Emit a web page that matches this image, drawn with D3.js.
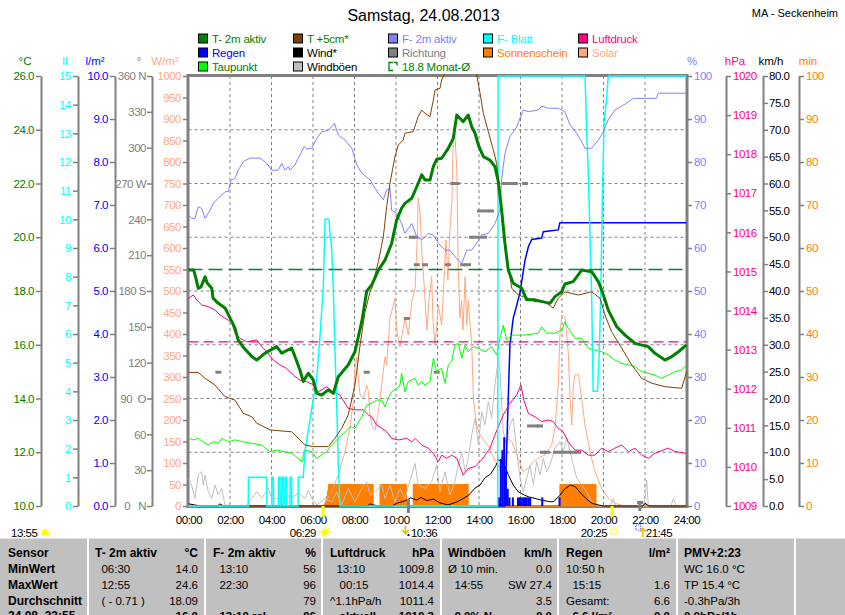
<!DOCTYPE html>
<html><head><meta charset="utf-8">
<script src="https://cdn.jsdelivr.net/npm/d3@7"></script>
<style>
body{margin:0;background:#fff;}
svg{display:block;}
text{white-space:pre;}
</style></head><body>
<svg id="c" width="845" height="615"></svg>
<script>
// ---------------- DATA ----------------
const hourTicks = [0,2,4,6,8,10,12,14,16,18,20,22,24];
const hourLabels = ["00:00","02:00","04:00","06:00","08:00","10:00","12:00","14:00","16:00","18:00","20:00","22:00","24:00"];
const tempTicks = [10,12,14,16,18,20,22,24,26];
const leafTicks = [0,1,2,3,4,5,6,7,8,9,10,11,12,13,14,15];
const rainTicks = [0,1,2,3,4,5,6,7,8,9,10];
const dirTicks = [0,30,60,90,120,150,180,210,240,270,300,330,360];
const dirLabels = ["0   N","30","60","90  O","120","150","180 S","210","240","270 W","300","330","360 N"];
const solarTicks = [0,50,100,150,200,250,300,350,400,450,500,550,600,650,700,750,800,850,900,950,1000];
const humTicks = [0,10,20,30,40,50,60,70,80,90,100];
const pressTicks = [1009,1010,1011,1012,1013,1014,1015,1016,1017,1018,1019,1020];
const windTicks = [0,5,10,15,20,25,30,35,40,45,50,55,60,65,70,75,80];
const sunTicks = [0,10,20,30,40,50,60,70,80,90,100];

// T- 2m aktiv [hour, °C]
const t2m = [[0,18.78],[0.25,18.78],[0.35,18.5],[0.47,18.1],[0.6,18.15],[0.8,18.53],[0.9,18.3],[1.12,18.1],[1.18,17.74],[1.42,17.55],[1.76,17.37],[2.0,17.0],[2.24,16.62],[2.39,16.18],[2.63,15.92],[3.05,15.56],[3.29,15.43],[3.69,15.69],[4.25,15.93],[4.49,15.69],[4.97,15.88],[5.13,15.56],[5.37,15.06],[5.53,14.63],[5.77,14.94],[6.01,14.69],[6.18,14.19],[6.42,14.13],[6.74,14.32],[6.98,14.19],[7.22,14.81],[7.7,15.25],[8.02,15.74],[8.35,16.86],[8.59,18.0],[8.83,18.22],[9.15,18.78],[9.47,19.15],[9.79,19.77],[10.03,20.64],[10.27,21.08],[10.43,21.26],[10.76,21.45],[11.0,21.88],[11.24,22.32],[11.4,22.13],[11.64,22.13],[11.8,22.63],[11.96,22.9],[12.2,22.94],[12.52,23.31],[12.76,23.68],[12.93,24.55],[13.08,24.43],[13.24,24.3],[13.48,24.55],[13.65,24.11],[13.81,23.87],[13.97,23.43],[14.21,23.0],[14.53,22.87],[14.77,22.63],[14.93,22.07],[15.09,21.01],[15.25,19.77],[15.41,18.78],[15.65,18.29],[16.06,18.1],[16.3,17.67],[16.7,17.67],[17.42,17.54],[17.66,17.79],[17.99,17.97],[18.14,18.26],[18.54,18.35],[18.95,18.78],[19.43,18.72],[19.75,18.35],[19.91,18.04],[20.23,17.29],[20.64,16.67],[21.04,16.36],[21.52,16.05],[22.16,15.93],[22.48,15.68],[22.96,15.43],[23.29,15.56],[23.61,15.74],[24.0,15.99]];
// T +5cm [hour, °C]
const t5cm = [[0,14.97],[0.47,14.97],[0.8,14.75],[1.28,14.5],[1.76,14.07],[2.24,13.94],[2.64,13.45],[3.05,13.32],[3.29,13.08],[3.93,12.83],[4.97,12.76],[5.29,12.52],[5.61,12.27],[6.01,12.21],[6.74,12.21],[7.06,12.52],[7.38,12.89],[7.7,13.39],[8.02,14.5],[8.27,15.99],[8.51,17.23],[8.75,17.97],[8.83,18.1],[9.15,19.09],[9.39,20.02],[9.55,21.14],[9.71,22.01],[9.95,23.0],[10.11,23.43],[10.35,23.62],[10.43,23.87],[10.83,23.93],[11.07,24.49],[11.24,24.73],[11.4,24.61],[11.64,24.49],[11.8,25.11],[11.88,25.48],[12.12,25.54],[12.2,25.85],[12.36,26.1],[12.7,26.9],[13.1,27.4],[13.5,27.0],[13.89,26.04],[14.05,25.36],[14.21,24.61],[14.45,23.93],[14.69,23.25],[14.85,22.75],[15.01,21.64],[15.17,20.39],[15.33,19.28],[15.58,18.1],[15.9,17.85],[16.38,17.73],[16.7,17.6],[17.18,17.6],[17.58,17.36],[17.82,17.73],[18.14,17.97],[18.79,17.85],[19.43,17.97],[19.83,17.73],[20.07,17.11],[20.39,16.49],[20.88,15.87],[21.36,15.25],[21.84,14.75],[22.32,14.57],[22.96,14.44],[23.77,14.38],[24.0,15.0]];
// Taupunkt [hour, °C]
const dewPoint = [[0,12.52],[0.23,12.46],[0.47,12.52],[0.71,12.39],[0.95,12.27],[1.2,12.39],[1.44,12.33],[1.6,12.52],[1.92,12.39],[2.24,12.46],[2.64,12.39],[3.05,12.33],[3.53,12.27],[3.93,12.02],[4.25,12.08],[4.65,12.02],[4.97,11.96],[5.29,11.77],[5.46,11.65],[5.61,12.08],[5.94,12.02],[6.18,11.77],[6.42,11.9],[6.66,12.02],[6.9,12.27],[7.22,12.52],[7.54,12.76],[7.78,12.95],[8.02,12.89],[8.35,13.32],[8.59,13.76],[8.83,13.82],[9.07,13.94],[9.31,13.94],[9.47,13.69],[9.63,14.01],[9.79,14.25],[10.03,14.38],[10.19,14.5],[10.27,14.94],[10.43,14.25],[10.59,14.63],[10.92,14.75],[11.07,14.5],[11.24,14.63],[11.4,14.5],[11.64,14.63],[11.8,15.5],[11.96,15.0],[12.2,15.12],[12.36,14.57],[12.52,15.25],[12.68,15.37],[12.84,15.99],[13.0,16.05],[13.17,15.5],[13.33,15.99],[13.48,15.74],[13.73,15.93],[13.97,15.87],[14.29,15.74],[14.61,15.93],[14.85,15.62],[15.01,16.24],[15.17,16.73],[15.33,16.18],[15.58,16.36],[16.22,16.36],[16.86,16.43],[17.02,16.67],[17.26,16.43],[17.66,16.43],[17.99,16.55],[18.14,16.86],[18.3,16.61],[18.63,16.24],[18.95,16.24],[19.27,15.87],[19.59,15.8],[19.91,15.74],[20.23,15.62],[20.55,15.43],[20.88,15.31],[21.2,15.25],[21.52,15.18],[21.84,15.0],[22.16,14.94],[22.48,14.87],[22.8,14.75],[23.12,14.87],[23.45,15.0],[23.77,15.06],[24.0,15.25]];
// F- 2m aktiv [hour, %]
const humidity = [[0,67.7],[0.15,66.9],[0.31,66.9],[0.47,69.6],[0.64,69.2],[0.8,66.9],[1.04,68.8],[1.2,70.4],[1.44,71.6],[1.6,72.3],[1.76,73.1],[1.92,73.1],[2.05,75.8],[2.24,76.2],[2.4,78.1],[2.64,80.1],[2.96,80.9],[3.45,80.9],[3.77,79.7],[4.01,78.1],[4.33,78.1],[4.49,79.7],[4.65,78.1],[4.81,78.9],[4.89,78.1],[5.13,79.3],[5.29,80.9],[5.58,83.6],[5.7,83.0],[5.94,83.2],[6.18,85.5],[6.42,87.0],[6.74,87.4],[6.9,88.2],[7.03,89.0],[7.22,86.3],[7.54,85.1],[7.87,83.2],[8.11,79.3],[8.35,77.4],[8.75,75.8],[8.99,73.9],[9.15,72.7],[9.39,71.2],[9.55,73.5],[9.71,73.9],[9.79,68.8],[10.03,68.1],[10.27,65.7],[10.43,63.4],[10.76,65.7],[11.0,62.6],[11.24,61.9],[11.56,63.4],[11.8,63.0],[12.04,61.1],[12.12,60.7],[12.36,59.5],[12.6,59.5],[12.84,58.0],[13.17,56.4],[13.41,59.5],[13.65,59.5],[13.89,61.1],[14.13,63.0],[14.45,63.4],[14.77,65.7],[15.01,68.8],[15.09,75.8],[15.25,82.0],[15.49,85.9],[15.82,88.2],[16.13,92.1],[16.38,91.7],[16.86,92.1],[17.02,93.0],[17.34,92.5],[17.82,92.5],[18.14,91.7],[18.39,88.6],[18.71,86.7],[18.95,84.7],[19.11,83.2],[19.43,83.2],[19.75,85.1],[19.99,87.0],[20.23,89.8],[20.55,92.1],[21.12,93.7],[21.44,94.8],[22.56,94.8],[22.64,96.0],[24.0,96.0]];
// F- Blatt [hour, lf]
const leafWet = [[0,0],[2.88,0],[2.89,1],[3.77,1],[3.78,0],[4.01,0],[4.02,1],[4.09,1],[4.1,0],[4.33,0],[4.34,1],[4.41,1],[4.42,0],[4.49,0],[4.5,1],[4.57,1],[4.58,0],[4.65,0],[4.66,1],[4.73,1],[4.74,0],[4.89,0],[4.9,1],[4.97,1],[4.98,0],[5.28,0],[5.29,1],[5.53,1],[5.61,1.9],[5.94,3.4],[6.18,4.45],[6.34,5.96],[6.5,7.7],[6.58,10],[6.77,10],[6.82,9.5],[6.9,9.0],[6.98,7.5],[7.06,5.4],[7.14,3.6],[7.22,1.4],[7.3,0],[14.9,0],[14.92,15],[19.11,15],[19.19,13],[19.27,11.6],[19.35,9.4],[19.43,7.3],[19.5,4],[19.71,4],[19.8,5.4],[19.87,7.5],[19.95,10.9],[20.03,13.4],[20.15,14.2],[20.23,15],[24,15]];
// Regen cumulative [hour, l/m²]
const rainSum = [[14.9,0],[15.25,0],[15.33,1.26],[15.49,3.74],[15.65,4.37],[15.82,4.67],[15.98,4.98],[16.22,5.72],[16.38,6.03],[16.54,6.2],[17.02,6.23],[17.1,6.38],[17.82,6.42],[17.9,6.59],[24,6.59]];
// Regen per 5 min [hour, l/m²]
const rainRate = [[14.92,0.2],[15.0,1.1],[15.083,1.3],[15.167,1.6],[15.25,0.8],[15.333,0.4],[15.417,0.2],[15.583,0.2],[15.833,0.2],[15.917,0.2],[16.0,0.2],[16.083,0.2],[16.167,0.2],[16.25,0.2],[16.333,0.2],[16.417,0.2],[17.0,0.2],[17.833,0.2]];
// Wind* [hour, km/h]
const wind = [[0,0.4],[0.3,0.2],[0.6,0],[1.4,0],[1.5,0.4],[1.7,0],[8.6,0],[8.75,0.4],[8.9,0.2],[9.2,0],[9.8,0],[10.1,0.6],[10.4,0.9],[10.7,1.5],[11.0,1.1],[11.2,1.6],[11.5,1.0],[11.8,1.3],[12.1,0.6],[12.5,0.2],[12.9,0.7],[13.2,1.3],[13.5,2.0],[13.8,3.3],[14.05,3.9],[14.3,5.3],[14.55,5.9],[14.8,7.4],[14.93,8.6],[15.08,8.3],[15.25,7.4],[15.4,5.9],[15.65,3.9],[15.9,2.6],[16.2,2.0],[16.4,1.7],[16.7,1.4],[17.0,1.1],[17.4,0.8],[17.6,0.8],[17.9,2.0],[18.14,3.2],[18.4,3.9],[18.64,3.6],[18.9,2.4],[19.15,1.4],[19.45,0.5],[19.75,0.2],[20.0,0],[21.9,0],[22.0,0.5],[22.2,0],[24,0]];
// Windböen [hour, km/h]
const gusts = [[0,5.15],[0.15,3.9],[0.31,1.43],[0.47,5.77],[0.64,6.38],[0.71,3.9],[0.8,5.77],[0.95,2.66],[1.12,1.43],[1.28,3.9],[1.44,2.05],[1.6,3.29],[1.76,0.19],[2.34,0],[2.77,0],[3.05,1.43],[3.29,2.66],[3.53,1.43],[3.85,3.29],[4.01,1.43],[4.33,1.43],[4.65,2.98],[4.89,1.43],[5.29,2.36],[5.61,1.43],[5.77,2.98],[5.94,1.43],[6.18,0.19],[6.58,1.43],[6.9,0.74],[7.14,2.66],[7.38,0.19],[7.7,3.29],[8.02,0.74],[8.35,3.29],[8.59,4.52],[8.75,2.05],[8.99,2.66],[9.31,3.9],[9.47,1.43],[9.71,3.9],[9.95,0.74],[10.19,3.29],[10.43,1.43],[10.92,7.94],[11.07,3.9],[11.4,3.29],[11.72,4.52],[11.96,7.63],[12.12,2.66],[12.36,6.38],[12.6,2.05],[12.84,4.52],[13.0,7.63],[13.17,10.1],[13.33,6.38],[13.48,8.87],[13.65,13.21],[13.81,16.32],[13.97,11.35],[14.13,17.54],[14.29,15.07],[14.45,19.4],[14.61,16.32],[14.77,22.51],[14.93,27.4],[15.01,24.99],[15.17,13.82],[15.33,11.35],[15.49,15.07],[15.65,16.32],[15.82,10.1],[15.98,5.15],[16.13,2.66],[16.3,5.15],[16.46,7.63],[16.62,3.9],[16.78,8.24],[16.94,5.77],[17.1,8.87],[17.26,6.38],[17.42,7.63],[17.66,10.73],[17.9,11.96],[18.06,10.1],[18.23,12.6],[18.39,10.1],[18.55,7.63],[18.71,5.15],[18.95,3.9],[19.19,2.66],[19.43,0.8],[19.75,0],[20.31,0],[20.47,1.43],[20.6,0],[21.9,0],[22.0,1.43],[22.08,4.84],[22.16,0],[23.25,0],[23.37,1.43],[23.5,0],[24,0]];
// Richtung [hour, degrees]
const direction = [[1.44,112],[8.59,112],[10.52,157],[10.76,225],[10.92,225],[11.0,202],[11.4,202],[11.96,112],[12.5,202],[12.76,270],[12.93,270],[13.24,202],[13.47,202],[13.66,225],[13.95,225],[14.24,225],[14.05,247],[14.34,247],[14.58,247],[15.25,270],[15.49,270],[15.73,270],[16.22,270],[16.46,67],[16.75,67],[16.94,67],[17.08,45],[17.28,45],[17.71,45],[18.0,45],[18.29,45],[18.58,45],[18.77,45],[21.76,3]];
// Sonnenschein [hour, min] (step)
const sunshine = [[0,0],[6.55,0.5],[6.6,1.2],[6.65,2.2],[6.7,3.5],[6.74,5],[8.9,0],[9.23,5],[10.5,0],[10.83,5],[13.48,0],[17.9,5],[19.64,0],[24,0]];
// Luftdruck [hour, hPa]
const pressure = [[0,1014.31],[0.23,1014.4],[0.4,1014.27],[0.64,1014.14],[0.95,1014.1],[1.28,1014.01],[1.52,1013.89],[1.76,1013.8],[2.08,1013.71],[2.24,1013.42],[2.48,1013.29],[2.8,1013.2],[3.29,1013.25],[3.53,1013.08],[3.77,1012.95],[4.09,1012.73],[4.41,1012.61],[4.73,1012.52],[5.05,1012.35],[5.37,1012.22],[5.7,1012.18],[6.01,1012.1],[6.25,1011.92],[6.66,1012.05],[6.98,1011.92],[7.3,1011.84],[7.54,1011.63],[7.7,1011.5],[8.02,1011.46],[8.42,1011.46],[8.67,1011.33],[8.83,1011.28],[9.07,1011.07],[9.31,1010.99],[9.55,1010.9],[9.79,1010.73],[10.11,1010.69],[10.52,1010.73],[10.76,1010.64],[10.92,1010.73],[11.24,1010.56],[11.56,1010.48],[11.8,1010.35],[12.04,1010.13],[12.2,1010.3],[12.44,1010.22],[12.68,1010.3],[12.93,1010.22],[13.08,1010.01],[13.24,1009.79],[13.48,1009.96],[13.81,1010.01],[14.13,1010.18],[14.53,1010.48],[14.77,1010.82],[15.17,1011.33],[15.49,1011.63],[15.82,1011.84],[16.02,1012.1],[16.16,1011.71],[16.38,1011.37],[16.7,1011.28],[17.02,1011.16],[17.34,1011.2],[17.58,1011.16],[17.82,1010.99],[18.06,1010.9],[18.3,1010.64],[18.63,1010.43],[18.95,1010.43],[19.27,1010.3],[19.59,1010.3],[19.91,1010.48],[20.23,1010.39],[20.55,1010.48],[20.88,1010.56],[21.2,1010.39],[21.52,1010.48],[21.84,1010.3],[22.16,1010.22],[22.48,1010.35],[23.12,1010.48],[23.45,1010.39],[23.93,1010.35],[24,1010.35]];
// Solar [hour, W/m²]
const solar = [[0,0],[6.4,0],[6.5,2],[6.9,33],[7.22,72],[7.54,126],[7.78,181],[7.94,243],[8.02,320],[8.11,347],[8.18,297],[8.27,258],[8.42,250],[8.59,281],[8.67,266],[8.75,212],[8.83,188],[8.99,177],[9.15,219],[9.31,281],[9.47,347],[9.55,328],[9.71,437],[9.87,467],[9.95,483],[10.03,409],[10.19,370],[10.35,413],[10.43,437],[10.59,398],[10.76,475],[10.92,506],[11.04,642],[11.07,716],[11.16,681],[11.24,595],[11.31,549],[11.4,479],[11.49,409],[11.59,479],[11.72,533],[11.78,433],[11.88,374],[12.04,467],[12.2,421],[12.28,491],[12.41,619],[12.5,526],[12.6,642],[12.7,712],[12.76,859],[12.84,867],[12.93,781],[13.0,549],[13.08,437],[13.16,479],[13.23,409],[13.33,533],[13.41,421],[13.48,479],[13.65,374],[13.73,250],[13.89,188],[14.05,165],[14.29,150],[14.53,134],[14.77,103],[15.01,88],[15.17,134],[15.33,157],[15.58,150],[15.89,111],[16.13,80],[16.38,88],[16.62,103],[16.86,111],[17.18,119],[17.5,142],[17.66,181],[17.82,281],[17.9,398],[17.99,444],[18.14,440],[18.3,359],[18.39,250],[18.47,188],[18.55,281],[18.63,305],[18.79,305],[18.95,250],[19.11,188],[19.35,126],[19.59,80],[19.91,41],[20.23,18],[20.55,6],[20.88,2],[21.0,0],[24,0]];
// reference lines
const monthAvgTemp = 18.8;
const monthAvgPress = 1013.2;
// sun / moon times [hour]
const sunrise = 6 + 29/60, sunset = 20 + 25/60, moonset = 10 + 36/60, moonrise = 21 + 45/60;

// legend
const legendCols = [
  [["T- 2m aktiv","#008000","#008000"],["Regen","#0000ff","#0000ff"],["Taupunkt","#00ff00","#008000"]],
  [["T +5cm*","#804000","#008000"],["Wind*","#000000","#000000"],["Windböen","#c0c0c0","#000000"]],
  [["F- 2m aktiv","#8080ff","#8080ff"],["Richtung","#808080","#808080"],["18.8 Monat-Ø",null,"#008000"]],
  [["F- Blatt","#00ffff","#00ffff"],["Sonnenschein","#ff8000","#ff8000"]],
  [["Luftdruck","#ff0080","#ff0080"],["Solar","#ffa880","#ffa880"]]
];

// table
const tableHeader = [["Sensor",""],["T- 2m aktiv","°C"],["F- 2m aktiv","%"],["Luftdruck","hPa"],["Windböen","km/h"],["Regen","l/m²"],["PMV+2:23",""]];
const tableRows = [
  ["MinWert",["  06:30","14.0"],["  13:10","56"],["  13:10","1009.8"],["Ø 10 min.","0.0"],["10:50 h",""],["WC 16.0 °C",""]],
  ["MaxWert",["  12:55","24.6"],["  22:30","96"],["   00:15","1014.4"],["  14:55","SW 27.4"],["  15:15","1.6"],["TP 15.4 °C",""]],
  ["Durchschnitt",["  ( - 0.71 )","18.09"],["","79"],["^1.1hPa/h","1011.4"],["","3.5"],["Gesamt:","6.6"],["-0.3hPa/3h",""]],
  ["24.08. 23:55",["","16.0"],["  13:10 rel.","96"],["   aktuell","1010.3"],["  0.0% N","0.0"],["  6.6 l/m²","0.0"],["0.0hPa/1h",""]]
];

// ---------------- DRAW ----------------
const FONT = '"Liberation Sans", Arial, Helvetica, sans-serif';
const GRAY = '#808080';
const svg = d3.select('#c').attr('font-family', FONT);
const X0 = 188.5, X1 = 686.5, YB = 506, YT = 76;

const x = d3.scaleLinear([0,24],[X0,X1]);
const yT = d3.scaleLinear([10,26],[YB,YT]);
const yLf = d3.scaleLinear([0,15],[YB,YT]);
const yRain = d3.scaleLinear([0,10],[YB,YT]);
const yDir = d3.scaleLinear([0,360],[YB,YT]);
const ySol = d3.scaleLinear([0,1000],[YB,YT]);
const yHum = d3.scaleLinear([0,100],[YB,YT]);
const yP = d3.scaleLinear([1009,1020],[YB,YT]);
const yW = d3.scaleLinear([0,80],[YB,YT]);
const ySun = d3.scaleLinear([0,100],[YB,YT]);

svg.append('rect').attr('width',845).attr('height',615).attr('fill','#fff');

// title
svg.append('text').attr('x',423.5).attr('y',21).attr('text-anchor','middle')
  .attr('font-size',16).attr('fill','#000').text('Samstag, 24.08.2013');
svg.append('text').attr('x',838).attr('y',16.5).attr('text-anchor','end')
  .attr('font-size',11).attr('fill','#000').text('MA - Seckenheim');

// legend
const legX = [198, 293, 388, 483, 578], legY = [33.5, 47.5, 61.5];
legendCols.forEach((col,ci)=>{
  col.forEach((it,ri)=>{
    const bx = legX[ci], by = legY[ri];
    if (it[1]) {
      svg.append('rect').attr('x',bx+0.5).attr('y',by+0.5).attr('width',9).attr('height',9)
        .attr('fill',it[1]).attr('stroke','#000').attr('stroke-width',1);
    } else {
      svg.append('path').attr('d',`M${bx+5},${by+1}H${bx+1}V${by+9}H${bx+5}M${bx+6},${by+1}H${bx+9}V${by+4}`)
        .attr('fill','none').attr('stroke',it[2]).attr('stroke-width',1.3);
    }
    svg.append('text').attr('x',bx+14).attr('y',by+9).attr('font-size',11.5)
      .attr('letter-spacing',-0.2).attr('fill',it[2]).text(it[0]);
  });
});

// grid
const grid = svg.append('g').attr('stroke',GRAY).attr('stroke-width',1).attr('stroke-dasharray','3,3');
tempTicks.slice(1,-1).forEach(v=>grid.append('line').attr('x1',X0).attr('x2',X1).attr('y1',yT(v)).attr('y2',yT(v)));
hourTicks.slice(1,-1).forEach(h=>grid.append('line').attr('x1',x(h)).attr('x2',x(h)).attr('y1',YT).attr('y2',YB));

// plot frame
svg.append('rect').attr('x',188).attr('y',75.5).attr('width',499).attr('height',431)
  .attr('fill','none').attr('stroke',GRAY).attr('stroke-width',3);

// axes
function styleAxis(g, color){
  g.attr('font-family',FONT).attr('font-size',11.5);
  g.select('.domain').attr('stroke',GRAY).attr('stroke-width',2);
  g.selectAll('.tick line').attr('stroke',GRAY).attr('stroke-width',1.5);
  g.selectAll('.tick text').attr('fill',color).attr('letter-spacing',-0.5);
}
function leftAxis(px, scale, vals, fmt, color, pad){
  const g = svg.append('g').attr('transform',`translate(${px},0)`)
    .call(d3.axisLeft(scale).tickValues(vals).tickFormat(fmt).tickSize(5).tickSizeOuter(0).tickPadding(pad||2));
  styleAxis(g,color); return g;
}
function rightAxis(px, scale, vals, fmt, color, pad){
  const g = svg.append('g').attr('transform',`translate(${px},0)`)
    .call(d3.axisRight(scale).tickValues(vals).tickFormat(fmt).tickSize(5).tickSizeOuter(0).tickPadding(pad||2));
  styleAxis(g,color); return g;
}
leftAxis(41, yT, tempTicks, d=>d.toFixed(1), '#008000');
leftAxis(78, yLf, leafTicks, d=>String(d), '#00ffff');
leftAxis(115, yRain, rainTicks, d=>d.toFixed(1), '#0000ff');
leftAxis(152, yDir, dirTicks, (d,i)=>dirLabels[i], GRAY, 1);
const solAx = leftAxis(188, ySol, solarTicks, d=>String(d), '#ffa880');
solAx.select('.domain').remove();
const humAx = rightAxis(687, yHum, humTicks, d=>String(d), '#8080ff');
humAx.select('.domain').remove();
rightAxis(726, yP, pressTicks, d=>String(d), '#ff0080');
rightAxis(763, yW, windTicks, d=>d.toFixed(1), '#000000', 1);
rightAxis(799, ySun, sunTicks, d=>String(d), '#ff8000');

// unit labels
const units = [["°C",25,'#008000'],["lf",65,'#00ffff'],["l/m²",95,'#0000ff'],["°",139,GRAY],["W/m²",165,'#ffa880'],
  ["%",692,'#8080ff'],["hPa",735,'#ff0080'],["km/h",771,'#000'],["min",808,'#ff8000']];
units.forEach(u=>svg.append('text').attr('x',u[1]).attr('y',65).attr('text-anchor','middle')
  .attr('font-size',11.5).attr('fill',u[2]).text(u[0]));

// x axis labels
const xg = svg.append('g').attr('transform',`translate(0,${YB})`)
  .call(d3.axisBottom(x).tickValues(hourTicks).tickFormat((d,i)=>hourLabels[i]).tickSize(0).tickPadding(10));
xg.attr('font-family',FONT).attr('font-size',11.5);
xg.select('.domain').remove();
xg.selectAll('.tick text').attr('fill','#000').attr('letter-spacing',-0.5);

// series
const defs = svg.append('defs');
defs.append('clipPath').attr('id','plotclip').append('rect').attr('x',188).attr('y',74).attr('width',499).attr('height',433.5);
const plot = svg.append('g').attr('clip-path','url(#plotclip)');
const lineOf = s => d3.line().x(d=>x(d[0])).y(d=>s(d[1]));

// sunshine
plot.append('path').datum(sunshine)
  .attr('d', d3.area().x(d=>x(d[0])).y0(ySun(0)).y1(d=>ySun(d[1])).curve(d3.curveStepAfter))
  .attr('fill','#ff8000').attr('stroke','#ff8000').attr('stroke-width',1);
// solar
plot.append('path').datum(solar).attr('d',lineOf(ySol)).attr('fill','none').attr('stroke','#ffa880').attr('stroke-width',1);
// gusts
plot.append('path').datum(gusts).attr('d',lineOf(yW)).attr('fill','none').attr('stroke','#c0c0c0').attr('stroke-width',1);
// wind
plot.append('path').datum(wind).attr('d',lineOf(yW)).attr('fill','none').attr('stroke','#000').attr('stroke-width',1);
// rain bars
plot.selectAll('rect.rr').data(rainRate).enter().append('rect').attr('class','rr')
  .attr('x',d=>x(d[0])).attr('width',d=>x(d[0]+5/60)-x(d[0])+0.3)
  .attr('y',d=>yRain(d[1])).attr('height',d=>yRain(0)-yRain(d[1])).attr('fill','#0000ff');
// rain sum
plot.append('path').datum(rainSum).attr('d',lineOf(yRain)).attr('fill','none').attr('stroke','#0000ff').attr('stroke-width',1.5);
// direction
plot.selectAll('rect.dir').data(direction).enter().append('rect').attr('class','dir')
  .attr('x',d=>x(d[0])-3).attr('y',d=>yDir(d[1])-1.5).attr('width',6).attr('height',3).attr('fill',GRAY);
// pressure
plot.append('path').datum(pressure).attr('d',lineOf(yP)).attr('fill','none').attr('stroke','#ff0080').attr('stroke-width',1);
plot.append('line').attr('x1',X0).attr('x2',X1).attr('y1',yP(monthAvgPress)).attr('y2',yP(monthAvgPress))
  .attr('stroke','#ff0080').attr('stroke-width',1.3).attr('stroke-dasharray','10,5');
// dew point
plot.append('path').datum(dewPoint).attr('d',lineOf(yT)).attr('fill','none').attr('stroke','#00ff00').attr('stroke-width',1);
// leaf wetness
plot.append('path').datum(leafWet).attr('d',lineOf(yLf)).attr('fill','none').attr('stroke','#00ffff').attr('stroke-width',1.5);
// humidity
plot.append('path').datum(humidity).attr('d',lineOf(yHum)).attr('fill','none').attr('stroke','#8080ff').attr('stroke-width',1);
// T+5cm
plot.append('path').datum(t5cm).attr('d',lineOf(yT)).attr('fill','none').attr('stroke','#804000').attr('stroke-width',1);
// month average temp
plot.append('line').attr('x1',X0).attr('x2',X1).attr('y1',yT(monthAvgTemp)).attr('y2',yT(monthAvgTemp))
  .attr('stroke','#008040').attr('stroke-width',1.5).attr('stroke-dasharray','14,6');
// T2m
plot.append('path').datum(t2m).attr('d',lineOf(yT)).attr('fill','none').attr('stroke','#008000').attr('stroke-width',3).attr('stroke-linejoin','round');

// sun/moon markers
[[sunrise,'#ffff00',506,517],[sunset,'#ffff00',506,517],[moonset,GRAY,499,513],[moonrise,GRAY,501,511]].forEach(m=>{
  svg.append('rect').attr('x',x(m[0])-1.5).attr('y',m[2]).attr('width',3).attr('height',m[3]-m[2]).attr('fill',m[1]);
});

// info row below axis
const IY = 537;
const info = svg.append('g').attr('font-size',11.5).attr('letter-spacing',-0.5).attr('fill','#000');
info.append('text').attr('x',11).attr('y',IY).text('13:55');
svg.append('path').attr('d','M41,535 Q41,529 45,529 Q49,529 49,535 Z').attr('fill','#ffff00');
info.append('text').attr('x',x(sunrise)-7).attr('y',IY).attr('text-anchor','end').text('06:29');
const sx = x(sunrise)+2, sy = 532;
svg.append('circle').attr('cx',sx).attr('cy',sy).attr('r',3).attr('fill','#ffff00');
svg.append('path').attr('d',`M${sx-6},${sy}H${sx+6}M${sx},${sy-6}V${sy+6}M${sx-4},${sy-4}L${sx+4},${sy+4}M${sx-4},${sy+4}L${sx+4},${sy-4}`)
  .attr('stroke','#ffff00').attr('stroke-width',1);
svg.append('path').attr('d',`M${x(moonset)-3},526 V533 M${x(moonset)-6},530 L${x(moonset)-3},534 L${x(moonset)},530`)
  .attr('stroke','#e0c000').attr('stroke-width',1.5).attr('fill','none');
svg.append('rect').attr('x',x(moonset)-1).attr('y',534).attr('width',2).attr('height',2).attr('fill','#0000ff');
info.append('text').attr('x',x(moonset)+2.5).attr('y',IY).text('10:36');
info.append('text').attr('x',x(sunset)-5).attr('y',IY).attr('text-anchor','end').text('20:25');
svg.append('rect').attr('x',x(sunset)-1).attr('y',529).attr('width',5).attr('height',5)
  .attr('fill','none').attr('stroke','#ffff00').attr('stroke-width',1);
svg.append('rect').attr('x',x(moonrise)-4).attr('y',525).attr('width',5).attr('height',5)
  .attr('fill','none').attr('stroke','#4040ff').attr('stroke-width',1).attr('stroke-dasharray','1,1');
svg.append('path').attr('d',`M${x(moonrise)+3},537 V529 M${x(moonrise)},532 L${x(moonrise)+3},528 L${x(moonrise)+6},532`)
  .attr('stroke','#e0c000').attr('stroke-width',1.5).attr('fill','none');
info.append('text').attr('x',x(moonrise)+6).attr('y',IY).text('21:45');

// table
svg.append('rect').attr('x',0).attr('y',538.5).attr('width',845).attr('height',77).attr('fill','#c0c0c0');
const colL = [8, 95, 213, 330, 448, 566, 684];
const colR = [null, 198, 316, 434, 552, 670, null];
const sepX = [88, 205, 322, 441, 558, 677, 795];
sepX.forEach(sx=>{
  svg.append('line').attr('x1',sx).attr('x2',sx).attr('y1',538.5).attr('y2',615).attr('stroke','#fff').attr('stroke-width',2);
});
const tb = svg.append('g').attr('fill','#000').attr('font-size',11.5);
const rowY = [557, 573, 589, 604.5, 620];
tableHeader.forEach((h,i)=>{
  tb.append('text').attr('x',colL[i]).attr('y',rowY[0]).attr('font-weight','bold').attr('font-size',12).text(h[0]);
  if (h[1] && colR[i]) tb.append('text').attr('x',colR[i]).attr('y',rowY[0]).attr('text-anchor','end')
    .attr('font-weight','bold').attr('font-size',12).text(h[1]);
});
tableRows.forEach((r,ri)=>{
  const y = rowY[ri+1], bold = ri===3;
  tb.append('text').attr('x',colL[0]).attr('y',y).attr('font-weight','bold').attr('font-size',12).text(r[0]);
  for (let c=1;c<r.length;c++){
    const cell = r[c];
    tb.append('text').attr('x',colL[c]).attr('y',y).attr('font-weight',bold?'bold':'normal').text(cell[0]);
    if (cell[1] && colR[c]) tb.append('text').attr('x',colR[c]).attr('y',y).attr('text-anchor','end')
      .attr('font-weight',bold?'bold':'normal').text(cell[1]);
  }
});
</script></body></html>
